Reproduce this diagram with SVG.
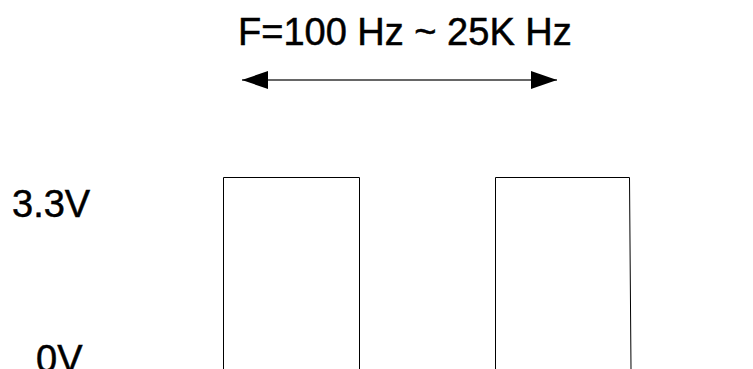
<svg xmlns="http://www.w3.org/2000/svg" width="753" height="369" viewBox="0 0 753 369">
<style>
.t{font-family:"Liberation Sans",Arial,sans-serif;font-size:38px;fill:#000;stroke:#000;stroke-width:0.5}
.p{fill:none;stroke:#000;stroke-width:1}
.a{stroke:#333;stroke-width:1.5;fill:none}
</style>
<defs>
<marker id="ah" viewBox="0 0 26 18" refX="26" refY="9" markerWidth="26" markerHeight="18" markerUnits="userSpaceOnUse" orient="auto-start-reverse">
<path d="M0,0 L26,9 L0,18 Z" fill="#000"/>
</marker>
</defs>
<rect width="753" height="369" fill="#fff"/>
<g id="title"><text class="t" x="238" y="44.5">F=100 Hz ~ 25K Hz</text></g>
<g id="connectors"><line class="a" x1="242" y1="80" x2="557" y2="80" marker-start="url(#ah)" marker-end="url(#ah)"/></g>
<g id="label-33v"><text class="t" x="12" y="217">3.3V</text></g>
<g id="label-0v"><text class="t" x="36" y="372">0V</text></g>
<g id="pulse1"><path class="p" d="M223.5,369 L223.5,177.5 L359.5,177.5 L359.5,369"/></g>
<g id="pulse2"><path class="p" d="M495.5,369 L495.5,177.5 L629.5,177.5 L631,369"/></g>
</svg>
